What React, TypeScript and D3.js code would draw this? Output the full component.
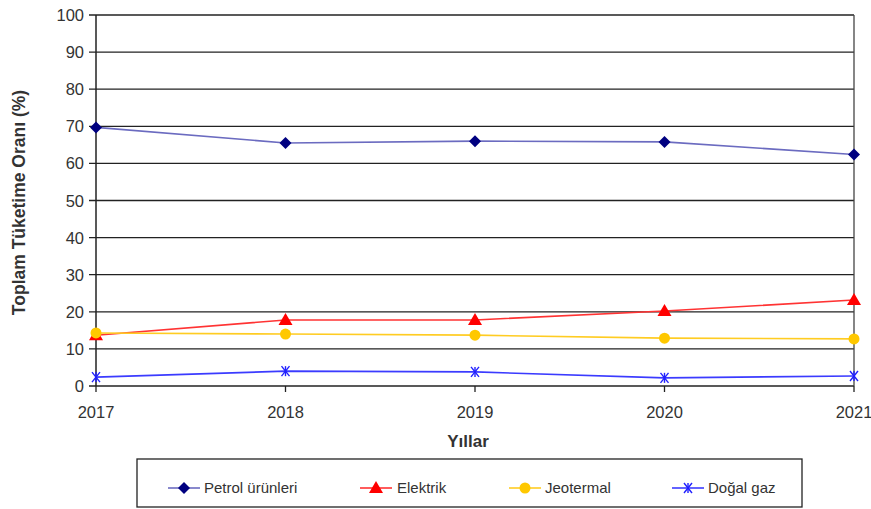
import React from "react";
import * as d3 from "d3";

const years = [2017, 2018, 2019, 2020, 2021];
const petrol = [69.7, 65.5, 66.0, 65.8, 62.4];
const elektrik = [13.7, 17.8, 17.8, 20.2, 23.2];
const jeotermal = [14.3, 14.0, 13.7, 12.9, 12.7];
const dogalGaz = [2.4, 4.0, 3.8, 2.2, 2.7];
const yTicks = [0, 10, 20, 30, 40, 50, 60, 70, 80, 90, 100];

const seriesNames = ["Petrol ürünleri", "Elektrik", "Jeotermal", "Doğal gaz"];

export default function App() {
  const W = 871, H = 509;
  const left = 96, right = 854, top = 15, bottom = 386;
  const x = d3.scaleLinear().domain([2017, 2021]).range([left, right]);
  const y = d3.scaleLinear().domain([0, 100]).range([bottom, top]);
  const font = "Liberation Sans, Arial, sans-serif";

  const series = [
    { name: seriesNames[0], values: petrol, line: "#6b6bc0", marker: "#000080", shape: "diamond" },
    { name: seriesNames[1], values: elektrik, line: "#ff3333", marker: "#ff0000", shape: "triangle" },
    { name: seriesNames[2], values: jeotermal, line: "#ffcc22", marker: "#ffc800", shape: "circle" },
    { name: seriesNames[3], values: dogalGaz, line: "#3b3bff", marker: "#2020ff", shape: "star" },
  ];

  const marker = (shape: string, cx: number, cy: number, color: string, key?: any) => {
    if (shape === "diamond") {
      return <path key={key} d={`M${cx},${cy - 6}L${cx + 6},${cy}L${cx},${cy + 6}L${cx - 6},${cy}Z`} fill={color} />;
    }
    if (shape === "triangle") {
      return <path key={key} d={`M${cx},${cy - 7}L${cx + 7},${cy + 5}L${cx - 7},${cy + 5}Z`} fill={color} />;
    }
    if (shape === "circle") {
      return <circle key={key} cx={cx} cy={cy} r={5.5} fill={color} />;
    }
    return (
      <g key={key} stroke={color} strokeWidth={1.4}>
        <line x1={cx - 4} y1={cy - 5} x2={cx + 4} y2={cy + 5} />
        <line x1={cx + 4} y1={cy - 5} x2={cx - 4} y2={cy + 5} />
        <line x1={cx} y1={cy - 5} x2={cx} y2={cy + 5} />
      </g>
    );
  };

  const lineGen = (vals: number[]) =>
    d3.line<number>().x((_, i) => x(years[i])).y((v) => y(v))(vals) || "";

  const legendItems = [
    { lx: 168, tx: 204 },
    { lx: 360, tx: 397 },
    { lx: 509, tx: 545 },
    { lx: 672, tx: 708 },
  ];

  return (
    <svg width={W} height={H} style={{ position: "absolute", left: 0, top: 0, background: "#fff" }} fontFamily={font}>
      <rect width={W} height={H} fill="#fff" />
      {yTicks.map((t) => (
        <g key={t}>
          <line x1={left - 7} x2={right} y1={y(t)} y2={y(t)} stroke="#222" strokeWidth={1.3} />
          <text x={left - 12} y={y(t) + 6} textAnchor="end" fontSize={16.5} fill="#333">{t}</text>
        </g>
      ))}
      <line x1={left} x2={left} y1={top} y2={bottom} stroke="#222" strokeWidth={1.5} />
      <line x1={right} x2={right} y1={top} y2={bottom} stroke="#444" strokeWidth={1.3} />
      {years.map((yr) => (
        <g key={yr}>
          <line x1={x(yr)} x2={x(yr)} y1={bottom} y2={bottom + 6} stroke="#222" strokeWidth={1.3} />
          <text x={x(yr)} y={bottom + 32} textAnchor="middle" fontSize={16.5} fill="#333">{yr}</text>
        </g>
      ))}
      {series.map((s) => (
        <g key={s.name}>
          <path d={lineGen(s.values)} fill="none" stroke={s.line} strokeWidth={1.6} />
          {s.values.map((v, i) => marker(s.shape, x(years[i]), y(v), s.marker, i))}
        </g>
      ))}
      <text x={468} y={447} textAnchor="middle" fontSize={17} fontWeight="bold" fill="#333">Yıllar</text>
      <text transform={`translate(25,${(top + bottom) / 2 + 2}) rotate(-90)`} textAnchor="middle" fontSize={17.5} fontWeight="bold" fill="#333">
        Toplam Tüketime Oranı (%)
      </text>
      <rect x={137} y={459} width={665} height={48} fill="#fff" stroke="#222" strokeWidth={1.3} />
      {series.map((s, i) => {
        const it = legendItems[i];
        return (
          <g key={s.name}>
            <line x1={it.lx} x2={it.lx + 32} y1={488} y2={488} stroke={s.line} strokeWidth={1.6} />
            {marker(s.shape, it.lx + 16, 488, s.marker)}
            <text x={it.tx} y={493} fontSize={15} fill="#333">{s.name}</text>
          </g>
        );
      })}
    </svg>
  );
}
